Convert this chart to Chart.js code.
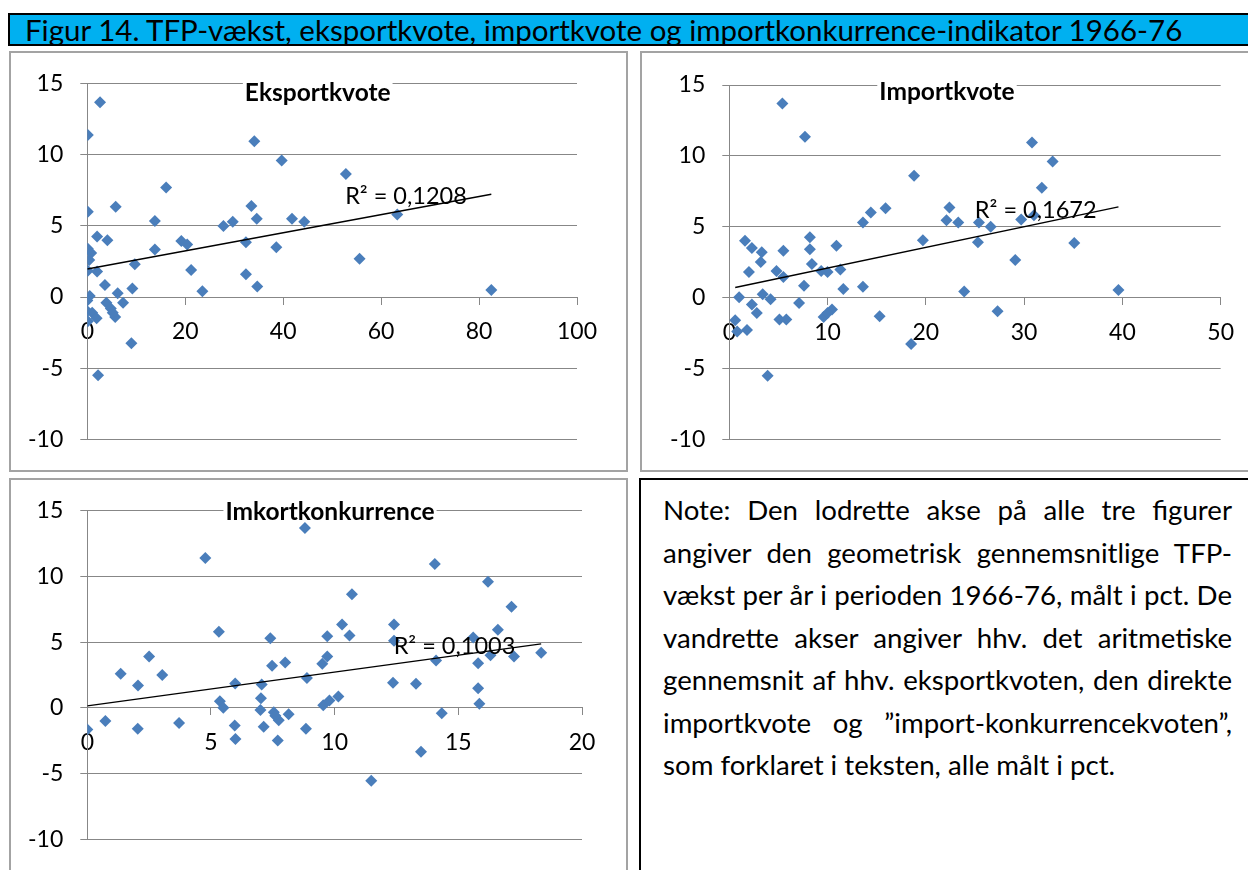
<!DOCTYPE html>
<html><head><meta charset="utf-8">
<script src="https://cdn.jsdelivr.net/npm/chart.js@4.4.0/dist/chart.umd.min.js"></script>
<style>
html,body{margin:0;padding:0;background:#fff;width:1248px;height:870px;overflow:hidden;font-family:Lato,"Open Sans",sans-serif;}
.abs{position:absolute;box-sizing:border-box;}
#titlebar{left:8px;top:13px;width:1250px;height:33px;background:#00B0F0;border:2px solid #000;}
#titletext{position:absolute;left:15px;top:50%;transform:translateY(-52%);white-space:nowrap;font-size:26px;color:#000;}
.box{border:2px solid #a3a3a3;background:#fff;}
#b1{left:9px;top:51px;width:619px;height:421px;}
#b2{left:640px;top:51px;width:615px;height:421px;}
#b3{left:9px;top:478px;width:619px;height:400px;}
#b4{left:639px;top:478px;width:620px;height:400px;border:2px solid #000;background:#fff;}
canvas{position:absolute;}
#note{position:absolute;left:663px;top:489px;width:569px;}
.ln{height:42.5px;line-height:42.5px;white-space:nowrap;text-align:justify;text-align-last:justify;color:#000;}
.ln.last{text-align:left;text-align-last:left;}
</style></head>
<body>
<div id="titlebar" class="abs"><span id="titletext">Figur 14. TFP-vækst, eksportkvote, importkvote og importkonkurrence-indikator 1966-76</span></div>
<div id="b1" class="abs box"></div>
<div id="b2" class="abs box"></div>
<div id="b3" class="abs box"></div>
<div id="b4" class="abs"></div>
<canvas id="c1" width="615" height="417" style="left:11px;top:53px"></canvas>
<canvas id="c2" width="606" height="417" style="left:642px;top:53px"></canvas>
<canvas id="c3" width="615" height="390" style="left:11px;top:480px"></canvas>
<div id="note">
<div class="ln">Note: Den lodrette akse på alle tre figurer</div>
<div class="ln">angiver den geometrisk gennemsnitlige TFP-</div>
<div class="ln">vækst per år i perioden 1966-76, målt i pct. De</div>
<div class="ln">vandrette akser angiver hhv. det aritmetiske</div>
<div class="ln">gennemsnit af hhv. eksportkvoten, den direkte</div>
<div class="ln">importkvote og ”import-konkurrencekvoten”,</div>
<div class="ln last">som forklaret i teksten, alle målt i pct.</div>
</div>
<script>
// ---- data ----
const eksX = [2.6,0.1,0.1,5.8,16.1,34.1,39.7,33.5,34.6,41.8,44.3,13.8,27.8,29.7,2.0,4.1,0.1,0.8,13.8,19.2,20.4,32.4,38.6,0.4,9.7,0.1,2.0,21.2,32.4,52.8,63.3,55.6,82.5,23.5,34.7,3.6,6.2,9.2,0.5,0.0,3.9,7.3,4.8,5.7,0.0,1.0,1.9,0.1,9.0,2.2,5.2];
const eksY = [13.7,11.4,6.0,6.35,7.7,10.95,9.6,6.4,5.5,5.5,5.3,5.35,5.0,5.3,4.25,4.0,3.4,3.1,3.35,3.95,3.7,3.85,3.5,2.6,2.3,1.85,1.8,1.9,1.6,8.65,5.8,2.7,0.5,0.4,0.75,0.85,0.27,0.6,0.07,-0.25,-0.4,-0.4,-0.8,-1.4,-1.0,-1.1,-1.5,-1.7,-3.25,-5.5,-1.1];

const impX = [5.4,7.7,18.8,15.9,14.4,13.6,19.7,1.6,2.3,3.3,5.5,8.2,8.2,10.9,22.4,22.1,30.8,32.9,31.8,23.3,25.4,26.6,29.7,31.0,25.3,35.1,29.1,23.9,27.3,39.6,3.2,2.0,4.8,5.5,8.4,9.35,10.0,11.3,7.6,11.6,13.6,1.0,3.4,4.2,2.3,2.8,7.1,0.6,0.8,1.8,5.1,5.8,9.6,10.45,10.0,15.3,18.5,3.9];
const impY = [13.7,11.35,8.6,6.3,6.0,5.3,4.05,4.0,3.5,3.2,3.3,4.25,3.4,3.65,6.35,5.45,10.95,9.6,7.75,5.3,5.3,5.0,5.5,5.8,3.9,3.85,2.65,0.42,-0.97,0.53,2.5,1.8,1.87,1.45,2.37,1.87,1.8,1.97,0.83,0.6,0.76,0.02,0.23,-0.12,-0.5,-1.09,-0.39,-1.6,-2.4,-2.29,-1.55,-1.55,-1.37,-0.85,-1.1,-1.32,-3.28,-5.52];

const konX = [4.77,8.8,5.32,7.4,2.5,7.47,8.0,14.05,16.2,10.7,17.15,12.4,10.3,9.7,10.6,12.4,15.6,16.6,18.35,17.25,16.3,15.8,14.1,9.7,9.5,1.35,2.05,3.03,0.0,0.73,2.04,3.71,5.36,5.5,5.98,5.96,5.99,7.02,7.05,7.0,7.13,7.54,7.74,7.7,8.14,8.88,8.84,9.54,9.79,10.15,11.48,12.36,13.29,13.49,14.33,15.8,15.85,7.6];
const konY = [11.4,13.7,5.8,5.3,3.9,3.2,3.45,10.95,9.6,8.65,7.7,6.35,6.35,5.45,5.5,5.1,5.35,5.95,4.2,3.9,4.0,3.4,3.6,3.9,3.35,2.6,1.7,2.5,-1.64,-1.0,-1.59,-1.15,0.51,0.0,1.86,-1.34,-2.37,0.73,1.78,-0.17,-1.44,-0.34,-0.95,-2.49,-0.49,2.27,-1.59,0.2,0.56,0.86,-5.55,1.91,1.83,-3.35,-0.42,1.49,0.32,-0.6];

// linear trendlines as shown in the reference: [intercept, slope]
const eksTrend = [1.97, 0.0638];
const impTrend = [0.62, 0.146];
const konTrend = [0.15, 0.257];

const yTicks = [-10,-5,0,5,10,15];
const eksXTicks = [0,20,40,60,80,100];
const impXTicks = [0,10,20,30,40,50];
const konXTicks = [0,5,10,15,20];
const chartTitles = ['Eksportkvote','Importkvote','Imkortkonkurrence'];
const r2Labels = ['R² = 0,1208','R² = 0,1672','R² = 0,1003'];

// ---- helpers ----
const FONT = 'Lato, "Open Sans", sans-serif';
const GRID = '#878787';
const MARK = '#4A7EBB';

function trendPts(xs, t){
  const x0=Math.min(...xs), x1=Math.max(...xs);
  return [{x:x0,y:t[0]+t[1]*x0},{x:x1,y:t[0]+t[1]*x1}];
}

const overlay = {
  id:'overlay',
  afterDatasetsDraw(chart, args, o){
    const ctx = chart.ctx;
    ctx.save();
    ctx.font = 'bold 24.5px ' + FONT;
    ctx.textAlign = 'center'; ctx.textBaseline = 'middle';
    const tw = ctx.measureText(o.title).width;
    ctx.fillStyle = '#fff';
    ctx.fillRect(o.tx - tw/2 - 2, o.ty - 10, tw + 4, 20);
    ctx.fillStyle = '#000';
    ctx.fillText(o.title, o.tx, o.ty);
    ctx.font = '23.5px ' + FONT;
    ctx.fillText(o.r2, o.rx, o.ry);
    ctx.restore();
  }
};

function makeChart(id, xs, ys, trend, xTicks, area, YW, ov){
  const cv = document.getElementById(id);
  const W = cv.width, H = cv.height;
  const pts = xs.map((x,i)=>({x:x, y:ys[i]}));
  return new Chart(cv, {
    type:'scatter',
    data:{datasets:[
      {type:'line', data: trendPts(xs,trend), borderColor:'#000', borderWidth:1.4, pointRadius:0, fill:false, tension:0},
      {data: pts, pointStyle:'rectRot', pointRadius:6, pointHoverRadius:6, backgroundColor:MARK, borderColor:MARK, borderWidth:0}
    ]},
    options:{
      responsive:false, animation:false, events:[],
      layout:{padding:{left: area.left - YW, top: area.top, right: W - area.right, bottom: H - area.bottom}},
      plugins:{legend:{display:false}, tooltip:{enabled:false}, overlay: ov},
      scales:{
        x:{type:'linear', position:{y:0}, min:xTicks[0], max:xTicks[xTicks.length-1],
           afterBuildTicks: s => { s.ticks = xTicks.map(v=>({value:v})); },
           grid:{drawOnChartArea:false, drawTicks:true, tickLength:7, color:GRID, lineWidth:1},
           border:{display:true, color:GRID, width:1},
           ticks:{padding:14, color:'#000', font:{family:FONT, size:23}, maxRotation:0, autoSkip:false}},
        y:{type:'linear', min:-10, max:15,
           afterBuildTicks: s => { s.ticks = yTicks.map(v=>({value:v})); },
           afterFit: s => { s.width = YW; },
           grid:{color:GRID, lineWidth:1, tickLength:7},
           border:{display:true, color:GRID, width:1},
           ticks:{padding:17, color:'#000', font:{family:FONT, size:23}}}
      }
    },
    plugins:[overlay]
  });
}

function build(){
  makeChart('c1', eksX, eksY, eksTrend, eksXTicks, {left:76.3, top:30.3, right:566, bottom:388.7}, 72,
    {title:chartTitles[0], tx:306.7, ty:40, r2:r2Labels[0], rx:395, ry:143});
  makeChart('c2', impX, impY, impTrend, impXTicks, {left:87.3, top:32, right:581.7, bottom:392.7}, 72,
    {title:chartTitles[1], tx:305, ty:39, r2:r2Labels[1], rx:393.7, ry:157});
  makeChart('c3', konX, konY, konTrend, konXTicks, {left:76.3, top:29, right:571, bottom:367.3}, 72,
    {title:chartTitles[2], tx:319, ty:32, r2:r2Labels[2], rx:443.5, ry:166.7});

  const tt = document.getElementById('titletext');
  const w = tt.getBoundingClientRect().width;
  tt.style.fontSize = (26 * 1158 / w) + 'px';
  const lines = Array.from(document.querySelectorAll('#note .ln'));
  let scale = 10;
  lines.slice(0,6).forEach(l => {
    const s = document.createElement('span'); s.textContent = l.textContent; s.style.whiteSpace='nowrap';
    s.style.fontSize='22px'; s.style.position='absolute'; s.style.visibility='hidden';
    document.body.appendChild(s);
    scale = Math.min(scale, 566 / s.getBoundingClientRect().width);
    s.remove();
  });
  lines.forEach(l => l.style.fontSize = (22*scale) + 'px');
}
if (document.fonts && document.fonts.load) {
  Promise.all([document.fonts.load('22px Lato'), document.fonts.load('bold 22px Lato')]).then(build, build);
} else build();
</script>
</body></html>
